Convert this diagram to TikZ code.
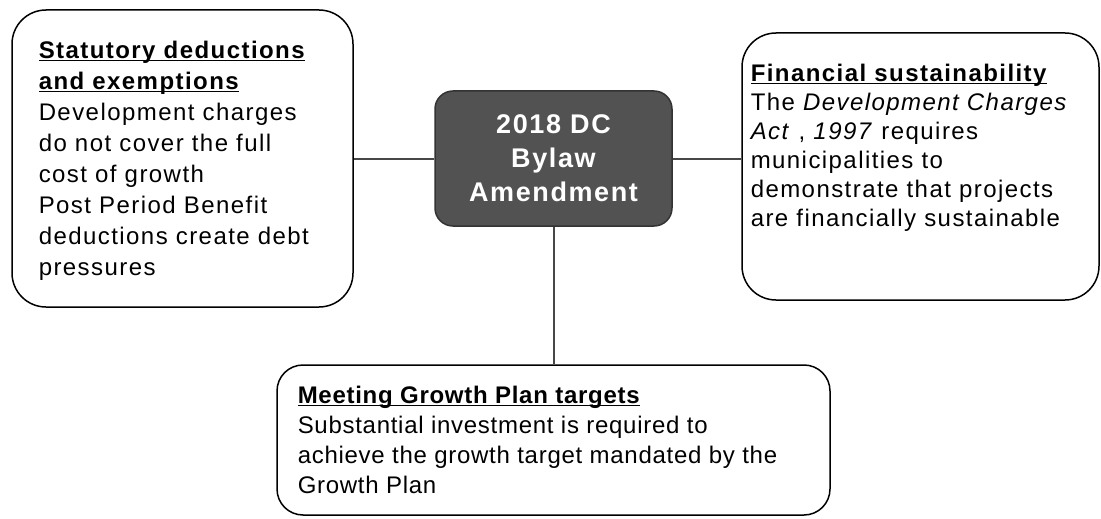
\documentclass[tikz,border=0pt]{standalone}
\usepackage{fontspec}
\setmainfont{Liberation Sans}[LetterSpace=6]
\usetikzlibrary{positioning}
\tikzset{every picture/.style={line width=1.5pt}}
\tikzset{
topicbox/.style={draw=black, rounded corners=34pt, inner sep=0pt},
topictext/.style={anchor=north west, inner sep=0.75pt, align=left, font=\fontsize{24}{31}\selectfont},
hubbox/.style={draw=black!80, fill=black!68, rounded corners=18pt, inner sep=0pt, text=white, align=center, font=\bfseries\fontsize{27}{34}\selectfont},
link/.style={draw=black!72, line width=2pt}}
% bold heading with a rule just under the baseline
\newcommand{\topichead}[1]{\setbox0=\hbox{\bfseries #1}\rlap{\rule[-3pt]{\wd0}{1.3pt}}\box0}

\begin{document}
\begin{tikzpicture}[x=1pt,y=1pt,yscale=-1]
\useasboundingbox (0,0) rectangle (1101,519);

%Shape: Rounded Rect [hub]
\node [hubbox, minimum width=237pt, minimum height=135pt] (hub) at (553.5,158.5) {2018 DC\\Bylaw\\Amendment};
%Shape: Rounded Rect [left]
\node [topicbox, minimum width=341pt, minimum height=297pt] (statbox) at (182.5,158.5) {};
%Shape: Rounded Rect [right]
\node [topicbox, minimum width=357pt, minimum height=267pt] (finbox) at (920.5,166.5) {};
%Shape: Rounded Rect [bottom]
\node [topicbox, rounded corners=26pt, minimum width=553pt, minimum height=150pt] (growbox) at (553.5,440) {};

%Straight Lines
\draw [link] (hub) -- (statbox);
\draw [link] (hub.east) -- (hub.east -| finbox.west);
\draw [link] (hub) -- (growbox);

% Text Node
\node [topictext, below right=30pt and 26pt of statbox.north west] (stattext)
{\topichead{Statutory deductions}\\
\topichead{and exemptions}\\
Development charges\\
do not cover the full\\
cost of growth\\
Post Period Benefit\\
deductions create debt\\
pressures};
% Text Node
\node [topictext, font=\fontsize{24}{29}\selectfont, below right=30pt and 8pt of finbox.north west] (fintext)
{\topichead{Financial sustainability}\\
The \textit{Development Charges}\\
\textit{Act} , \textit{1997} requires\\
municipalities to\\
demonstrate that projects\\
are financially sustainable};
% Text Node
\node [topictext, font=\addfontfeatures{LetterSpace=3}\fontsize{24}{30}\selectfont, below right=20pt and 20pt of growbox.north west] (growtext)
{\topichead{Meeting Growth Plan targets}\\
Substantial investment is required to\\
achieve the growth target mandated by the\\
Growth Plan};

\end{tikzpicture}
\end{document}
